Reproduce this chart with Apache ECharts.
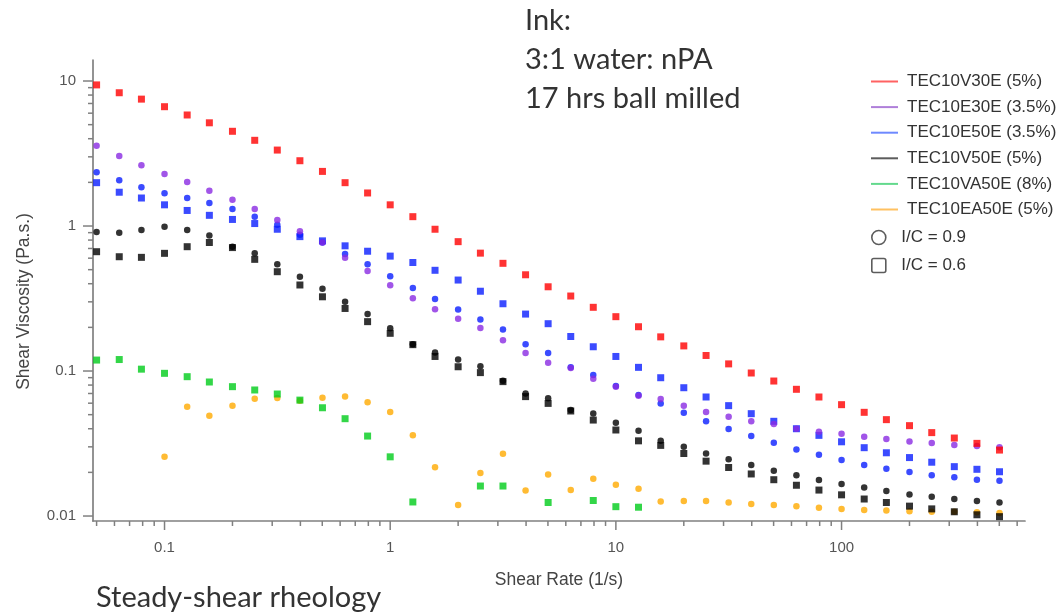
<!DOCTYPE html>
<html>
<head>
<meta charset="utf-8">
<script src="https://cdn.jsdelivr.net/npm/echarts@6/dist/echarts.min.js"></script>
<style>
  html, body { margin: 0; padding: 0; background: #fff; }
  #chart { width: 1057px; height: 612px; }
</style>
</head>
<body>
<div id="chart"></div>
<script>
// Shear rates (1/s), ten points per decade
const shearRate = [0.05, 0.063, 0.079, 0.1, 0.126, 0.158, 0.2, 0.251, 0.316, 0.398, 0.501, 0.631, 0.794,
  1, 1.26, 1.58, 2, 2.51, 3.16, 3.98, 5.01, 6.31, 7.94,
  10, 12.6, 15.8, 20, 25.1, 31.6, 39.8, 50.1, 63.1, 79.4,
  100, 126, 158, 200, 251, 316, 398, 501];

// Shear viscosity (Pa.s) per ink, null where no point is shown
const v30e_5 = [9.4, 8.3, 7.5, 6.65, 5.83, 5.15, 4.5, 3.9, 3.34, 2.82, 2.38, 1.99, 1.69,
  1.40, 1.16, 0.95, 0.78, 0.65, 0.553, 0.461, 0.381, 0.329, 0.275,
  0.237, 0.202, 0.172, 0.149, 0.128, 0.112, 0.0969, 0.0853, 0.0748, 0.0662,
  0.0586, 0.0519, 0.0462, 0.042, 0.0376, 0.0345, 0.0317, 0.0285];
const e30e_35 = [3.58, 3.04, 2.62, 2.28, 2.01, 1.75, 1.52, 1.31, 1.10, 0.92, 0.77, 0.605, 0.49,
  0.39, 0.317, 0.267, 0.229, 0.198, 0.163, 0.133, 0.114, 0.105, 0.0885,
  0.078, 0.0676, 0.064, 0.0576, 0.0521, 0.0484, 0.045, 0.0431, 0.040, 0.0381,
  0.037, 0.0352, 0.034, 0.0327, 0.0319, 0.0309, 0.0304, 0.0298];
const e50e_35_ic09 = [2.35, 2.07, 1.85, 1.68, 1.56, 1.44, 1.31, 1.16, 1.02, 0.87, 0.77, 0.64, 0.544,
  0.45, 0.373, 0.314, 0.266, 0.227, 0.193, 0.153, 0.133, 0.106, 0.0937,
  0.0788, 0.0683, 0.0598, 0.0516, 0.045, 0.0398, 0.0356, 0.032, 0.0288, 0.0265,
  0.0243, 0.0225, 0.0212, 0.0201, 0.0191, 0.0185, 0.0178, 0.0175];
const e50e_35_ic06 = [1.99, 1.71, 1.56, 1.40, 1.28, 1.185, 1.11, 1.04, 0.95, 0.845, 0.79, 0.73, 0.67,
  0.62, 0.56, 0.495, 0.424, 0.355, 0.291, 0.247, 0.212, 0.173, 0.147,
  0.126, 0.106, 0.0899, 0.0767, 0.0662, 0.0577, 0.0508, 0.045, 0.040, 0.036,
  0.0325, 0.0296, 0.0273, 0.0253, 0.0235, 0.0219, 0.021, 0.0202];
const v50e_5_ic09 = [0.91, 0.90, 0.94, 0.99, 0.94, 0.86, 0.72, 0.648, 0.544, 0.447, 0.37, 0.30, 0.247,
  0.197, 0.153, 0.134, 0.12, 0.108, 0.0857, 0.0701, 0.0649, 0.0538, 0.051,
  0.044, 0.0387, 0.033, 0.0301, 0.027, 0.0246, 0.0225, 0.0205, 0.0191, 0.0177,
  0.0166, 0.0157, 0.0149, 0.0141, 0.0136, 0.0131, 0.0127, 0.0124];
const v50e_5_ic06 = [0.665, 0.614, 0.608, 0.648, 0.72, 0.77, 0.71, 0.589, 0.484, 0.392, 0.325, 0.27, 0.219,
  0.182, 0.152, 0.126, 0.107, 0.0975, 0.0845, 0.0666, 0.0598, 0.053, 0.0459,
  0.0392, 0.033, 0.0307, 0.027, 0.0239, 0.0216, 0.0195, 0.0178, 0.0163, 0.0151,
  0.014, 0.0131, 0.0124, 0.0117, 0.0112, 0.0107, 0.0102, 0.0099];
const va50e_8 = [0.119, 0.12, 0.103, 0.0964, 0.0914, 0.084, 0.078, 0.074, 0.0694, 0.063, 0.0558, 0.0469, 0.0356,
  0.0256, 0.0125, null, null, 0.0161, 0.0161, null, 0.0124, null, 0.0128,
  0.0116, 0.0115, null, null, null, null, null, null, null, null,
  null, null, null, null, null, null, null, null];
const ea50e_5 = [null, null, null, 0.0256, 0.0568, 0.0492, 0.0577, 0.0644, 0.0651, 0.0624, 0.0655, 0.0668, 0.0608,
  0.0521, 0.036, 0.0217, 0.0119, 0.0198, 0.0269, 0.015, 0.0193, 0.0151, 0.0181,
  0.0164, 0.0154, 0.0126, 0.0127, 0.0127, 0.0124, 0.0121, 0.0119, 0.0117, 0.0114,
  0.0112, 0.011, 0.0109, 0.0108, 0.0107, 0.0107, 0.0106, 0.0105];

const inkNames = ['TEC10V30E (5%)', 'TEC10E30E (3.5%)', 'TEC10E50E (3.5%)', 'TEC10V50E (5%)', 'TEC10VA50E (8%)', 'TEC10EA50E (5%)'];
const ratioNames = ['I/C = 0.9', 'I/C = 0.6'];
const xTickLabels = ['0.1', '1', '10', '100'];
const yTickLabels = ['0.01', '0.1', '1', '10'];

// Axis extents
const X_MIN = 0.0482, X_MAX = 650;
const Y_MIN = 0.00924, Y_MAX = 13.96;

const markColor = ['#ff0000', '#8a2be2', '#0a1eff', '#000000', '#00cc1a', '#ffaa00'];
const keyColor = ['#ff3b3b', '#9b5fd0', '#4a6cff', '#333333', '#3ccf70', '#ffb23a'];
const AXIS = '#808080';
const FONT = 'Liberation Sans';

function pairs(ys) {
  const out = [];
  ys.forEach((y, i) => { if (y != null) out.push([shearRate[i], y]); });
  return out;
}

function scatter(name, ys, color, shape) {
  return {
    type: 'scatter', name: name, data: pairs(ys),
    symbol: shape, symbolSize: shape === 'rect' ? 7 : 6.5,
    itemStyle: { color: color },
    emphasis: { disabled: true }, z: 3
  };
}

// Decade tick values (1..9 x 10^n) inside an axis range
function logTicks(lo, hi) {
  const t = [];
  for (let e = -3; e <= 3; e++) {
    for (let m = 1; m <= 9; m++) {
      const v = m * Math.pow(10, e);
      if (v >= lo * 0.999 && v <= hi * 1.001) t.push([v, m === 1 ? 1 : 0]);
    }
  }
  return t;
}

function isDecade(v) {
  const l = Math.log10(v);
  return Math.abs(l - Math.round(l)) < 1e-6;
}
function decadeLabel(v, labels) {
  if (!isDecade(v)) return '';
  const e = Math.round(Math.log10(v));
  const s = e >= 0 ? String(Math.pow(10, e)) : Math.pow(10, e).toFixed(-e);
  return labels.indexOf(s) >= 0 ? s : '';
}

const xTickSeries = {
  type: 'custom', silent: true, z: 1,
  data: logTicks(X_MIN, X_MAX),
  renderItem: function (params, api) {
    const p = api.coord([api.value(0), Y_MIN]);
    const len = api.value(1) ? 9 : 5;
    return { type: 'line', shape: { x1: p[0], y1: p[1], x2: p[0], y2: p[1] + len },
      style: { stroke: AXIS, lineWidth: 1.5 } };
  }
};
const yTickSeries = {
  type: 'custom', silent: true, z: 1,
  data: logTicks(Y_MIN, Y_MAX).map(d => [X_MIN, d[0], d[1]]),
  renderItem: function (params, api) {
    const p = api.coord([X_MIN, api.value(1)]);
    const len = api.value(2) ? 10 : 5;
    return { type: 'line', shape: { x1: p[0], y1: p[1], x2: p[0] - len, y2: p[1] },
      style: { stroke: AXIS, lineWidth: 1.5 } };
  }
};

const chart = echarts.init(document.getElementById('chart'), null, { renderer: 'canvas' });
chart.setOption({
  animation: false,
  backgroundColor: '#ffffff',
  grid: { left: 93, right: 32, top: 60, bottom: 91, containLabel: false },
  xAxis: {
    type: 'log', logBase: 10, min: X_MIN, max: X_MAX,
    name: 'Shear Rate (1/s)', nameLocation: 'middle', nameGap: 50,
    nameTextStyle: { fontFamily: FONT, fontSize: 17.5, color: '#444' },
    axisLine: { show: true, lineStyle: { color: AXIS, width: 1.7 } },
    axisTick: { show: false }, splitLine: { show: false },
    axisLabel: { margin: 19, fontFamily: FONT, fontSize: 15, color: '#555',
      formatter: v => decadeLabel(v, xTickLabels) }
  },
  yAxis: {
    type: 'log', logBase: 10, min: Y_MIN, max: Y_MAX,
    name: 'Shear Viscosity (Pa.s.)', nameLocation: 'middle', nameGap: 60, nameRotate: 90,
    nameTextStyle: { fontFamily: FONT, fontSize: 17.5, color: '#444', padding: [0, 22, 0, 0] },
    axisLine: { show: true, lineStyle: { color: AXIS, width: 1.7 } },
    axisTick: { show: false }, splitLine: { show: false },
    axisLabel: { margin: 17, fontFamily: FONT, fontSize: 15, color: '#555',
      formatter: v => decadeLabel(v, yTickLabels) }
  },
  legend: [
    {
      orient: 'vertical', left: 866, top: 68, itemWidth: 27, itemHeight: 2, itemGap: 8.6,
      icon: 'rect', selectedMode: false,
      textStyle: { fontFamily: FONT, fontSize: 17, color: '#333', padding: [0, 0, 0, 4] },
      data: inkNames.map((n, i) => ({ name: n, icon: 'rect', itemStyle: { color: keyColor[i] } }))
    },
    {
      orient: 'vertical', left: 866, top: 224, itemWidth: 27, itemHeight: 14, itemGap: 11,
      selectedMode: false,
      textStyle: { fontFamily: FONT, fontSize: 17, color: '#333', padding: [0, 0, 0, 4] },
      data: [
        { name: ratioNames[0], icon: 'circle', itemStyle: { color: '#fff', borderColor: '#333', borderWidth: 1.6 } },
        { name: ratioNames[1], icon: 'path://M2,0 L12,0 Q14,0 14,2 L14,12 Q14,14 12,14 L2,14 Q0,14 0,12 L0,2 Q0,0 2,0 Z',
          itemStyle: { color: '#fff', borderColor: '#333', borderWidth: 1.6 } }
      ]
    }
  ],
  graphic: [
    { type: 'text', left: 525, top: 1,
      style: { text: 'Ink:\n3:1 water: nPA\n17 hrs ball milled', fill: '#333',
        font: '29px Lato', lineHeight: 39 } },
    { type: 'text', left: 96, top: 581,
      style: { text: 'Steady-shear rheology', fill: '#333', font: '29px Lato', lineHeight: 34 } }
  ],
  series: [
    xTickSeries, yTickSeries,
    scatter(inkNames[5], ea50e_5, markColor[5], 'circle'),
    scatter(inkNames[4], va50e_8, markColor[4], 'rect'),
    scatter(inkNames[3], v50e_5_ic09, markColor[3], 'circle'),
    scatter(inkNames[3], v50e_5_ic06, markColor[3], 'rect'),
    scatter(inkNames[2], e50e_35_ic09, markColor[2], 'circle'),
    scatter(inkNames[2], e50e_35_ic06, markColor[2], 'rect'),
    scatter(inkNames[1], e30e_35, markColor[1], 'circle'),
    scatter(inkNames[0], v30e_5, markColor[0], 'rect'),
    { type: 'scatter', name: ratioNames[0], data: [], symbol: 'circle' },
    { type: 'scatter', name: ratioNames[1], data: [], symbol: 'rect' }
  ]
});
</script>
</body>
</html>
